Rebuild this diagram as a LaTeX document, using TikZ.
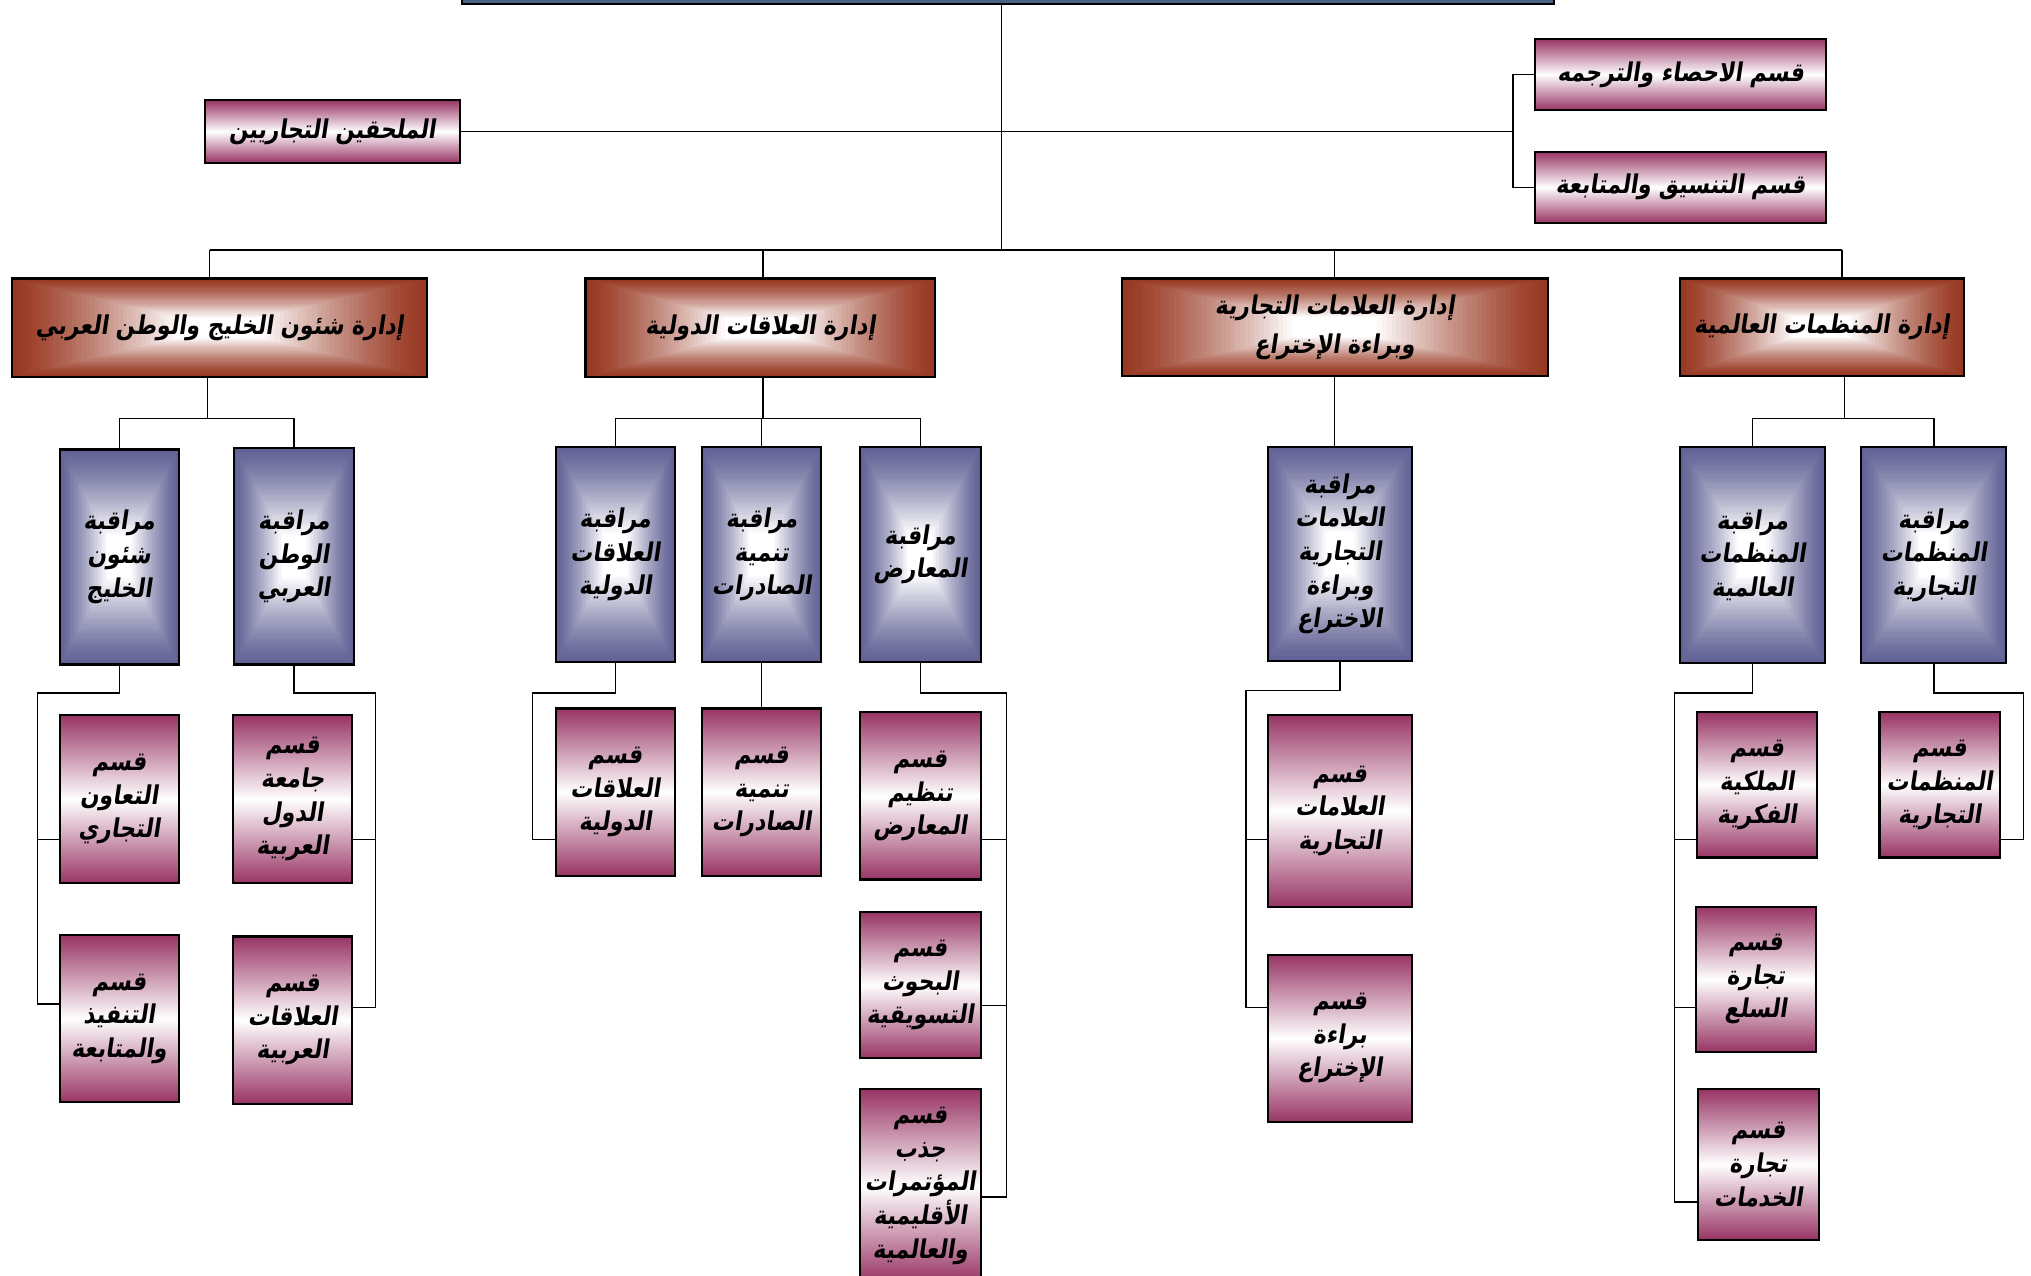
\documentclass[tikz,border=0pt]{standalone}
\usepackage{fontspec}
\usetikzlibrary{calc}
\TeXXeTstate=1
\newfontfamily\arabicfont[Script=Arabic,FakeSlant=0.15,FakeStretch=0.85]{DejaVu Sans}
\newcommand{\ar}[1]{\beginR #1\endR}
\definecolor{deptred}{RGB}{152,56,34}
\definecolor{supblue}{RGB}{98,98,150}
\definecolor{secmag}{RGB}{152,52,100}
\definecolor{topblue}{RGB}{75,98,130}
\tikzset{
  burst/.style 2 args={path picture={
    \foreach \i in {0,...,#2}{
      \pgfmathtruncatemacro\pct{max(0,100*(1-(\i/#2)^1.3))}
      \fill[#1!\pct!white]
        ($(path picture bounding box.south west)!{\i/90}!(path picture bounding box.north east)$)
        rectangle
        ($(path picture bounding box.north east)!{\i/90}!(path picture bounding box.south west)$);
    }}},
  basebox/.style={draw=black, line width=1.6pt, inner sep=0pt, align=center,
    font={\arabicfont\bfseries\fontsize{20}{26}\selectfont}},
  deptbox/.style={basebox, fill=white, burst={deptred}{36},
    font={\arabicfont\bfseries\fontsize{20}{30}\selectfont}},
  supbox/.style={basebox, fill=white, burst={supblue}{36}},
  secbox/.style={basebox, top color=secmag, bottom color=secmag, middle color=white},
  conn/.style={draw=black, line width=1pt},
}
\begin{document}
\begin{tikzpicture}[x=1pt,y=-1pt]
\useasboundingbox (0,0) rectangle (1568,984.4);
\fill[white] (0,0) rectangle (1568,984.4);

% top
\node[basebox, fill=topblue, minimum width=843, minimum height=43] (top) at (778.5,-18.5) {};
\node[secbox, minimum width=225, minimum height=55] (r1) at (1297.5,57.5) {\ar{قسم الاحصاء والترجمه}};
\node[secbox, minimum width=225, minimum height=55] (r2) at (1297.5,144.5) {\ar{قسم التنسيق والمتابعة}};
\node[secbox, minimum width=197, minimum height=48] (att) at (256.5,101.5) {\ar{الملحقين التجاريين}};

% departments
\node[deptbox, minimum width=321, minimum height=76] (d1) at (169.5,253) {\ar{إدارة شئون الخليج والوطن العربي}};
\node[deptbox, minimum width=270, minimum height=76] (d2) at (587,253) {\ar{إدارة العلاقات الدولية}};
\node[deptbox, minimum width=329, minimum height=75] (d3) at (1030.5,252.5) {\ar{إدارة العلامات التجارية}\\\ar{وبراءة الإختراع}};
\node[deptbox, minimum width=219, minimum height=75] (d4) at (1406.5,252.5) {\ar{إدارة المنظمات العالمية}};

% supervisions
\node[supbox, minimum width=92, minimum height=166] (s1) at (92,430) {\ar{مراقبة}\\\ar{شئون}\\\ar{الخليج}};
\node[supbox, minimum width=92, minimum height=167] (s2) at (227,429.5) {\ar{مراقبة}\\\ar{الوطن}\\\ar{العربي}};
\node[supbox, minimum width=92, minimum height=166] (s3) at (475,428) {\ar{مراقبة}\\\ar{العلاقات}\\\ar{الدولية}};
\node[supbox, minimum width=92, minimum height=166] (s4) at (588,428) {\ar{مراقبة}\\\ar{تنمية}\\\ar{الصادرات}};
\node[supbox, minimum width=93, minimum height=166] (s5) at (710.5,428) {\ar{مراقبة}\\\ar{المعارض}};
\node[supbox, minimum width=111, minimum height=165] (s6) at (1034.5,427.5) {\ar{مراقبة}\\\ar{العلامات}\\\ar{التجارية}\\\ar{وبراءة}\\\ar{الاختراع}};
\node[supbox, minimum width=112, minimum height=167] (s7) at (1353,428.5) {\ar{مراقبة}\\\ar{المنظمات}\\\ar{العالمية}};
\node[supbox, minimum width=112, minimum height=167] (s8) at (1493,428.5) {\ar{مراقبة}\\\ar{المنظمات}\\\ar{التجارية}};

% sections
\node[secbox, minimum width=92, minimum height=130] (t1) at (92,617) {\ar{قسم}\\\ar{التعاون}\\\ar{التجاري}};
\node[secbox, minimum width=92, minimum height=129] (t2) at (92,786.5) {\ar{قسم}\\\ar{التنفيذ}\\\ar{والمتابعة}};
\node[secbox, minimum width=92, minimum height=130] (t3) at (226,617) {\ar{قسم}\\\ar{جامعة}\\\ar{الدول}\\\ar{العربية}};
\node[secbox, minimum width=92, minimum height=129] (t4) at (226,787.5) {\ar{قسم}\\\ar{العلاقات}\\\ar{العربية}};
\node[secbox, minimum width=92, minimum height=129] (t5) at (475,611.5) {\ar{قسم}\\\ar{العلاقات}\\\ar{الدولية}};
\node[secbox, minimum width=92, minimum height=129] (t6) at (588,611.5) {\ar{قسم}\\\ar{تنمية}\\\ar{الصادرات}};
\node[secbox, minimum width=93, minimum height=129] (t7) at (710.5,614.5) {\ar{قسم}\\\ar{تنظيم}\\\ar{المعارض}};
\node[secbox, minimum width=93, minimum height=113] (t8) at (710.5,760.5) {\ar{قسم}\\\ar{البحوث}\\\ar{التسويقية}};
\node[secbox, minimum width=93, minimum height=149] (t9) at (710.5,915.5) {\ar{قسم}\\\ar{جذب}\\\ar{المؤتمرات}\\\ar{الأقليمية}\\\ar{والعالمية}};
\node[secbox, minimum width=111, minimum height=148] (t10) at (1034.5,626) {\ar{قسم}\\\ar{العلامات}\\\ar{التجارية}};
\node[secbox, minimum width=111, minimum height=129] (t11) at (1034.5,801.5) {\ar{قسم}\\\ar{براءة}\\\ar{الإختراع}};
\node[secbox, minimum width=93, minimum height=112] (t12) at (1356.5,606) {\ar{قسم}\\\ar{الملكية}\\\ar{الفكرية}};
\node[secbox, minimum width=93, minimum height=112] (t13) at (1355.5,756) {\ar{قسم}\\\ar{تجارة}\\\ar{السلع}};
\node[secbox, minimum width=93, minimum height=116] (t14) at (1357.5,899) {\ar{قسم}\\\ar{تجارة}\\\ar{الخدمات}};
\node[secbox, minimum width=93, minimum height=112] (t15) at (1497.5,606) {\ar{قسم}\\\ar{المنظمات}\\\ar{التجارية}};

% top connectors
\coordinate (cx) at (773,193);
\coordinate (rb) at (1168,101.5);
\draw[conn] (cx |- top.south) -- (cx);
\draw[conn] (att.east) -- (rb);
\draw[conn] (r1.west) -- (rb |- r1.west) -- (rb |- r2.west) -- (r2.west);

% department bus
\coordinate (bl) at (162,193);
\coordinate (br) at (1422,193);
\draw[conn] (bl) -- (br);
\draw[conn] (bl) -- (bl |- d1.north);
\draw[conn] (d2.north -| 589,0) -- (589,193);
\draw[conn] (d3.north) -- (d3.north |- cx);
\draw[conn] (br) -- (br |- d4.north);

% department to supervisions
\coordinate (d1b) at (160,323);
\draw[conn] (d1b |- d1.south) -- (d1b);
\draw[conn] (s1.north) |- (s2.north |- d1b) -- (s2.north);
\coordinate (d2b) at (589,323);
\draw[conn] (d2b |- d2.south) -- (d2b);
\draw[conn] (s3.north) |- (s5.north |- d2b) -- (s5.north);
\draw[conn] (s4.north) -- (s4.north |- d2b);
\draw[conn] (d3.south) -- (d3.south |- s6.north);
\coordinate (d4b) at (1424,323);
\draw[conn] (d4b |- d4.south) -- (d4b);
\draw[conn] (s7.north) |- (s8.north |- d4b) -- (s8.north);

% supervisions to sections
\coordinate (s1b) at (29,535); \coordinate (s1c) at (29,648); \coordinate (s1d) at (29,775);
\draw[conn] (s1.south) |- (s1b) -- (s1d) -- (s1d -| t2.west);
\draw[conn] (s1c) -- (s1c -| t1.west);

\coordinate (s2b) at (290,535); \coordinate (s2c) at (290,648); \coordinate (s2d) at (290,778);
\draw[conn] (s2.south) |- (s2b) -- (s2d) -- (s2d -| t4.east);
\draw[conn] (s2c) -- (s2c -| t3.east);

\coordinate (s3b) at (411,535); \coordinate (s3c) at (411,648);
\draw[conn] (s3.south) |- (s3b) -- (s3c) -- (s3c -| t5.west);

\draw[conn] (s4.south) -- (t6.north);

\coordinate (s5b) at (777,535); \coordinate (s5c) at (777,648); \coordinate (s5d) at (777,776); \coordinate (s5e) at (777,924);
\draw[conn] (s5.south) |- (s5b) -- (s5e) -- (s5e -| t9.east);
\draw[conn] (s5c) -- (s5c -| t7.east);
\draw[conn] (s5d) -- (s5d -| t8.east);

\coordinate (s6b) at (962,533); \coordinate (s6c) at (962,648); \coordinate (s6d) at (962,778);
\draw[conn] (s6.south) |- (s6b) -- (s6d) -- (s6d -| t11.west);
\draw[conn] (s6c) -- (s6c -| t10.west);

\coordinate (s7b) at (1293,535); \coordinate (s7c) at (1293,648); \coordinate (s7d) at (1293,778); \coordinate (s7e) at (1293,928);
\draw[conn] (s7.south) |- (s7b) -- (s7e) -- (s7e -| t14.west);
\draw[conn] (s7c) -- (s7c -| t12.west);
\draw[conn] (s7d) -- (s7d -| t13.west);

\coordinate (s8b) at (1562,535); \coordinate (s8c) at (1562,648);
\draw[conn] (s8.south) |- (s8b) -- (s8c) -- (s8c -| t15.east);
\end{tikzpicture}
\end{document}
